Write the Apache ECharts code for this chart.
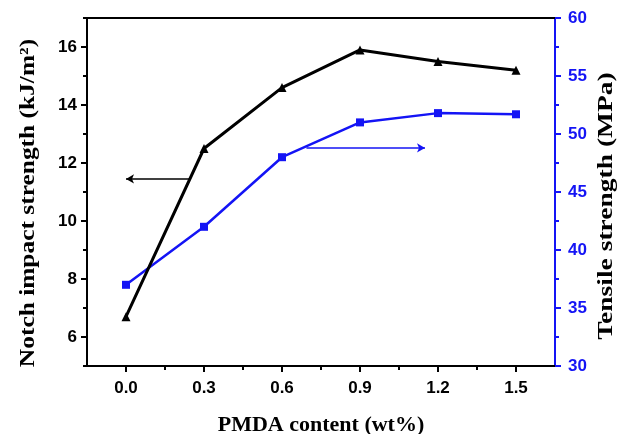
<!DOCTYPE html>
<html>
<head>
<meta charset="utf-8">
<script src="https://cdn.jsdelivr.net/npm/echarts@6/dist/echarts.min.js"></script>
<style>html,body{margin:0;padding:0;background:#fff;}#c{width:626px;height:434px;}</style>
</head>
<body>
<div id="c"></div>
<script>
var pmdaContent = [0.0, 0.3, 0.6, 0.9, 1.2, 1.5];
var impactStrength = [6.7, 12.5, 14.6, 15.9, 15.5, 15.2];
var tensileStrength = [37.0, 42.0, 48.0, 51.0, 51.8, 51.7];
var xMajorTicks = [0.0, 0.3, 0.6, 0.9, 1.2, 1.5];
var xMinorTicks = [0.15, 0.45, 0.75, 1.05, 1.35];
var leftMajorTicks = [6, 8, 10, 12, 14, 16];
var leftMinorTicks = [5, 7, 9, 11, 13, 15, 17];
var rightMajorTicks = [30, 35, 40, 45, 50, 55, 60];
var rightMinorTicks = [32.5, 37.5, 42.5, 47.5, 52.5, 57.5];
var impactArrow = [[0.245, 11.45], [0.0, 11.45]];
var tensileArrow = [[0.694, 48.8], [1.15, 48.8]];
var xTitle = 'PMDA content (wt%)';
var leftTitle = 'Notch impact strength (kJ/m\u00B2)';
var rightTitle = 'Tensile strength (MPa)';

var BLUE = '#1414f5';
var labelFont = {fontFamily: 'Liberation Sans', fontWeight: 'bold', fontSize: 17};
var nameFont = {fontFamily: 'Liberation Serif', fontWeight: 'bold', fontSize: 22, color: '#000'};

function minorAxis(pos, min, max, ticks, color) {
  return {
    type: 'value', position: pos, min: min, max: max,
    axisLine: {show: false, onZero: false},
    axisTick: {show: true, customValues: ticks, length: 4, lineStyle: {color: color, width: 2}},
    axisLabel: {show: false}, splitLine: {show: false}
  };
}

var chart = echarts.init(document.getElementById('c'), null, {renderer: 'canvas'});
var option = {
  animation: false,
  backgroundColor: '#fff',
  grid: {left: 87, right: 71, top: 18, bottom: 68, containLabel: false, outerBoundsMode: 'none'},
  xAxis: [
    {
      type: 'value', position: 'bottom', min: -0.15, max: 1.65,
      axisLine: {show: true, onZero: false, lineStyle: {color: '#000', width: 2}},
      axisTick: {show: true, customValues: xMajorTicks, length: 6, lineStyle: {color: '#000', width: 2}},
      axisLabel: Object.assign({show: true, customValues: xMajorTicks, color: '#000', margin: 14,
        formatter: function (v) { return v.toFixed(1); }}, labelFont),
      splitLine: {show: false},
      name: xTitle, nameLocation: 'middle', nameGap: 48, nameTextStyle: nameFont
    },
    minorAxis('bottom', -0.15, 1.65, xMinorTicks, '#000'),
    {
      type: 'value', position: 'top', min: -0.15, max: 1.65,
      axisLine: {show: true, onZero: false, lineStyle: {color: '#000', width: 2}},
      axisTick: {show: false}, axisLabel: {show: false}, splitLine: {show: false}
    }
  ],
  yAxis: [
    {
      type: 'value', position: 'left', min: 5, max: 17,
      axisLine: {show: true, onZero: false, lineStyle: {color: '#000', width: 2}},
      axisTick: {show: true, customValues: leftMajorTicks, length: 6, lineStyle: {color: '#000', width: 2}},
      axisLabel: Object.assign({show: true, customValues: leftMajorTicks, color: '#000', margin: 10}, labelFont),
      splitLine: {show: false}
    },
    minorAxis('left', 5, 17, leftMinorTicks, '#000'),
    {
      type: 'value', position: 'right', min: 30, max: 60,
      axisLine: {show: true, onZero: false, lineStyle: {color: BLUE, width: 2}},
      axisTick: {show: true, customValues: rightMajorTicks, length: 6, lineStyle: {color: BLUE, width: 2}},
      axisLabel: Object.assign({show: true, customValues: rightMajorTicks, color: BLUE, margin: 13}, labelFont),
      splitLine: {show: false}
    },
    minorAxis('right', 30, 60, rightMinorTicks, BLUE)
  ],
  graphic: [
    {
      type: 'text', x: 29, y: 203, rotation: Math.PI / 2, scaleX: 1.21, silent: true,
      style: {text: leftTitle, align: 'center', verticalAlign: 'middle', fill: '#000',
        font: 'bold 21px "Liberation Serif"'}
    },
    {
      type: 'text', x: 607, y: 206, rotation: Math.PI / 2, scaleX: 1.31, silent: true,
      style: {text: rightTitle, align: 'center', verticalAlign: 'middle', fill: '#000',
        font: 'bold 21px "Liberation Serif"'}
    }
  ],
  series: [
    {
      type: 'line', xAxisIndex: 0, yAxisIndex: 0,
      data: pmdaContent.map(function (x, i) { return [x, impactStrength[i]]; }),
      symbol: 'triangle', symbolSize: 9, showAllSymbol: true,
      lineStyle: {color: '#000', width: 3}, itemStyle: {color: '#000'},
      markLine: {
        silent: true, symbol: ['none', 'arrow'], symbolSize: [7, 8],
        label: {show: false},
        lineStyle: {color: '#000', width: 1.5, type: 'solid'},
        data: [[{coord: impactArrow[0]}, {coord: impactArrow[1]}]]
      },
      z: 3
    },
    {
      type: 'line', xAxisIndex: 0, yAxisIndex: 2,
      data: pmdaContent.map(function (x, i) { return [x, tensileStrength[i]]; }),
      symbol: 'rect', symbolSize: 8, showAllSymbol: true,
      lineStyle: {color: BLUE, width: 2.5}, itemStyle: {color: BLUE},
      markLine: {
        silent: true, symbol: ['none', 'arrow'], symbolSize: [7, 8],
        label: {show: false},
        lineStyle: {color: BLUE, width: 1.5, type: 'solid'},
        data: [[{coord: tensileArrow[0]}, {coord: tensileArrow[1]}]]
      },
      z: 2
    }
  ]
};
chart.setOption(option);
</script>
</body>
</html>
